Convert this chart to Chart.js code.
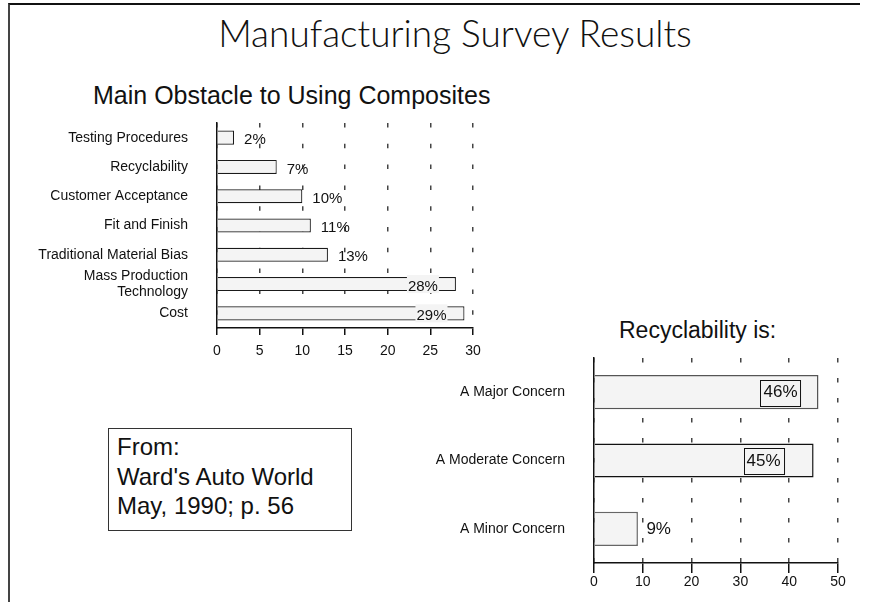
<!DOCTYPE html>
<html>
<head>
<meta charset="utf-8">
<title>Manufacturing Survey Results</title>
<script src="https://cdn.jsdelivr.net/npm/chart.js@4.4.1/dist/chart.umd.min.js"></script>
<style>
    body { margin: 0; background: #fff; color: #111; font-family: 'Liberation Sans', Arial, sans-serif; }
    #page { position: relative; width: 871px; height: 602px; overflow: hidden; }
    #frame { position: absolute; left: 8px; top: 3px; width: 850px; height: 640px; border-left: 2px solid #444; border-top: 2px solid #111; }
    .title { position: absolute; white-space: nowrap; line-height: 1; }
    #mainTitle { left: 0; width: 910px; top: 14px; text-align: center; font-family: Lato, 'Open Sans', sans-serif; font-weight: 300; font-size: 37px; }
    #obstacleTitle { left: 93px; top: 83px; font-size: 25px; }
    #recycleTitle { left: 619px; top: 319px; font-size: 23px; }
    .chartBox { position: absolute; }
    #source { position: absolute; left: 108px; top: 428px; width: 234px; height: 98px; padding: 3px 0 0 8px; border: 1px solid #333; font-size: 24px; line-height: 29.5px; }
</style>
</head>
<body>
<div id="page">
    <div id="frame"></div>
    <div class="title" id="mainTitle">Manufacturing Survey Results</div>
    <div class="title" id="obstacleTitle">Main Obstacle to Using Composites</div>
    <div class="chartBox" style="left:0; top:110px;"><canvas id="obstacleChart" width="500" height="260"></canvas></div>
    <div class="title" id="recycleTitle">Recyclability is:</div>
    <div class="chartBox" style="left:420px; top:350px;"><canvas id="recycleChart" width="451" height="252"></canvas></div>
    <div id="source">From:<br>Ward's Auto World<br>May, 1990; p. 56</div>
</div>
<script>
// Main obstacle to using composites (% of respondents)
var obstacleLabels = ['Testing Procedures', 'Recyclability', 'Customer Acceptance', 'Fit and Finish',
    'Traditional Material Bias', ['Mass Production', 'Technology'], 'Cost'];
var obstacleValues = [2, 7, 10, 11, 13, 28, 29];
var obstacleTicks = [0, 5, 10, 15, 20, 25, 30];

// Recyclability is: (% of respondents)
var concernLabels = ['A Major Concern', 'A Moderate Concern', 'A Minor Concern'];
var concernValues = [46, 45, 9];
var concernTicks = [0, 10, 20, 30, 40, 50];

var FONT = "'Liberation Sans', Arial, sans-serif";
var BAR_FILL = '#f4f4f4';

Chart.defaults.font.family = FONT;
Chart.defaults.color = '#111';

// Draws "NN%" next to each bar, or inside the bar when the bar is long
var valueLabels = {
    id: 'valueLabels',
    afterDatasetsDraw: function (chart, args, opts) {
        var ctx = chart.ctx;
        var values = chart.data.datasets[0].data;
        ctx.save();
        ctx.font = opts.font;
        ctx.textBaseline = 'middle';
        chart.getDatasetMeta(0).data.forEach(function (bar, i) {
            var text = values[i] + '%';
            var w = ctx.measureText(text).width;
            var y = bar.y + opts.dy;
            if (values[i] >= opts.insideFrom) {
                var gap = Array.isArray(opts.insideGap) ? opts.insideGap[i] : opts.insideGap;
                var cx = bar.x - gap;
                ctx.fillStyle = BAR_FILL;
                if (opts.boxed) {
                    var bw = w + 6, bh = opts.boxHeight;
                    var bx = Math.round(cx - bw / 2) + 0.5, by = Math.round(y - bh / 2) + 0.5;
                    ctx.fillRect(bx, by, bw, bh);
                    ctx.strokeStyle = '#111';
                    ctx.lineWidth = 1;
                    ctx.strokeRect(bx, by, bw, bh);
                } else {
                    ctx.fillRect(cx - w / 2 - 1, bar.y - bar.height / 2 - 2, w + 2, bar.height + 4);
                }
                ctx.fillStyle = '#111';
                ctx.textAlign = 'center';
                ctx.fillText(text, cx, y);
            } else {
                ctx.fillStyle = '#111';
                ctx.textAlign = 'left';
                ctx.fillText(text, bar.x + opts.outsideGap, y);
            }
        });
        ctx.restore();
    }
};

function fixedTicks(list) {
    return function (scale) {
        scale.ticks = list.map(function (v) { return { value: v }; });
    };
}

// category axis with a fixed width and no extra room above/below for its labels
function categoryWidth(w) {
    return function (scale) {
        scale.width = w;
        scale.paddingTop = 0;
        scale.paddingBottom = 0;
    };
}

new Chart(document.getElementById('obstacleChart'), {
    type: 'bar',
    data: {
        labels: obstacleLabels,
        datasets: [{
            data: obstacleValues,
            backgroundColor: BAR_FILL,
            borderColor: '#1a1a1a',
            borderWidth: 1.2,
            barPercentage: 0.48,
            categoryPercentage: 1
        }]
    },
    options: {
        indexAxis: 'y',
        responsive: false,
        animation: false,
        layout: { padding: { top: 13, right: 27, bottom: 0, left: 0 } },
        plugins: {
            legend: { display: false },
            tooltip: { enabled: false },
            valueLabels: { font: '15px ' + FONT, dy: 2.5, insideFrom: 20, insideGap: 33, outsideGap: 10 }
        },
        scales: {
            x: {
                min: 0,
                max: 30,
                afterBuildTicks: fixedTicks(obstacleTicks),
                afterFit: function (s) { s.height = 42; },
                grid: { color: '#444', lineWidth: 1.5, tickLength: 7, tickColor: '#111', tickWidth: 1.5, tickBorderDash: [] },
                border: { color: '#111', width: 1.5, dash: [4.5, 16.3] },
                ticks: { padding: 8, font: { size: 14 } }
            },
            y: {
                afterFit: categoryWidth(217),
                grid: { display: false },
                border: { color: '#111', width: 1.5 },
                ticks: { autoSkip: false, padding: 21, font: { size: 14 } }
            }
        }
    },
    plugins: [valueLabels]
});

new Chart(document.getElementById('recycleChart'), {
    type: 'bar',
    data: {
        labels: concernLabels,
        datasets: [{
            data: concernValues,
            backgroundColor: BAR_FILL,
            borderColor: ['#555', '#111', '#666'],
            borderWidth: 1.5,
            barPercentage: 0.5,
            categoryPercentage: 1
        }]
    },
    options: {
        indexAxis: 'y',
        responsive: false,
        animation: false,
        layout: { padding: { top: 8, right: 33, bottom: 0, left: 0 } },
        plugins: {
            legend: { display: false },
            tooltip: { enabled: false },
            valueLabels: { font: '17px ' + FONT, dy: 0.5, insideFrom: 20, insideGap: [38, 50], outsideGap: 8.5, boxed: true, boxHeight: 26 }
        },
        scales: {
            x: {
                min: 0,
                max: 50,
                afterBuildTicks: fixedTicks(concernTicks),
                afterFit: function (s) { s.height = 39; },
                grid: { color: '#444', lineWidth: 1.5, tickLength: 10, tickColor: '#111', tickWidth: 1.5, tickBorderDash: [] },
                border: { color: '#111', width: 1.5, dash: [4.5, 15.5] },
                ticks: { padding: 1, font: { size: 14 } }
            },
            y: {
                afterFit: categoryWidth(174),
                grid: { display: false },
                border: { color: '#111', width: 1.5 },
                ticks: { autoSkip: false, padding: 21, font: { size: 14 } }
            }
        }
    },
    plugins: [valueLabels]
});
</script>
</body>
</html>
